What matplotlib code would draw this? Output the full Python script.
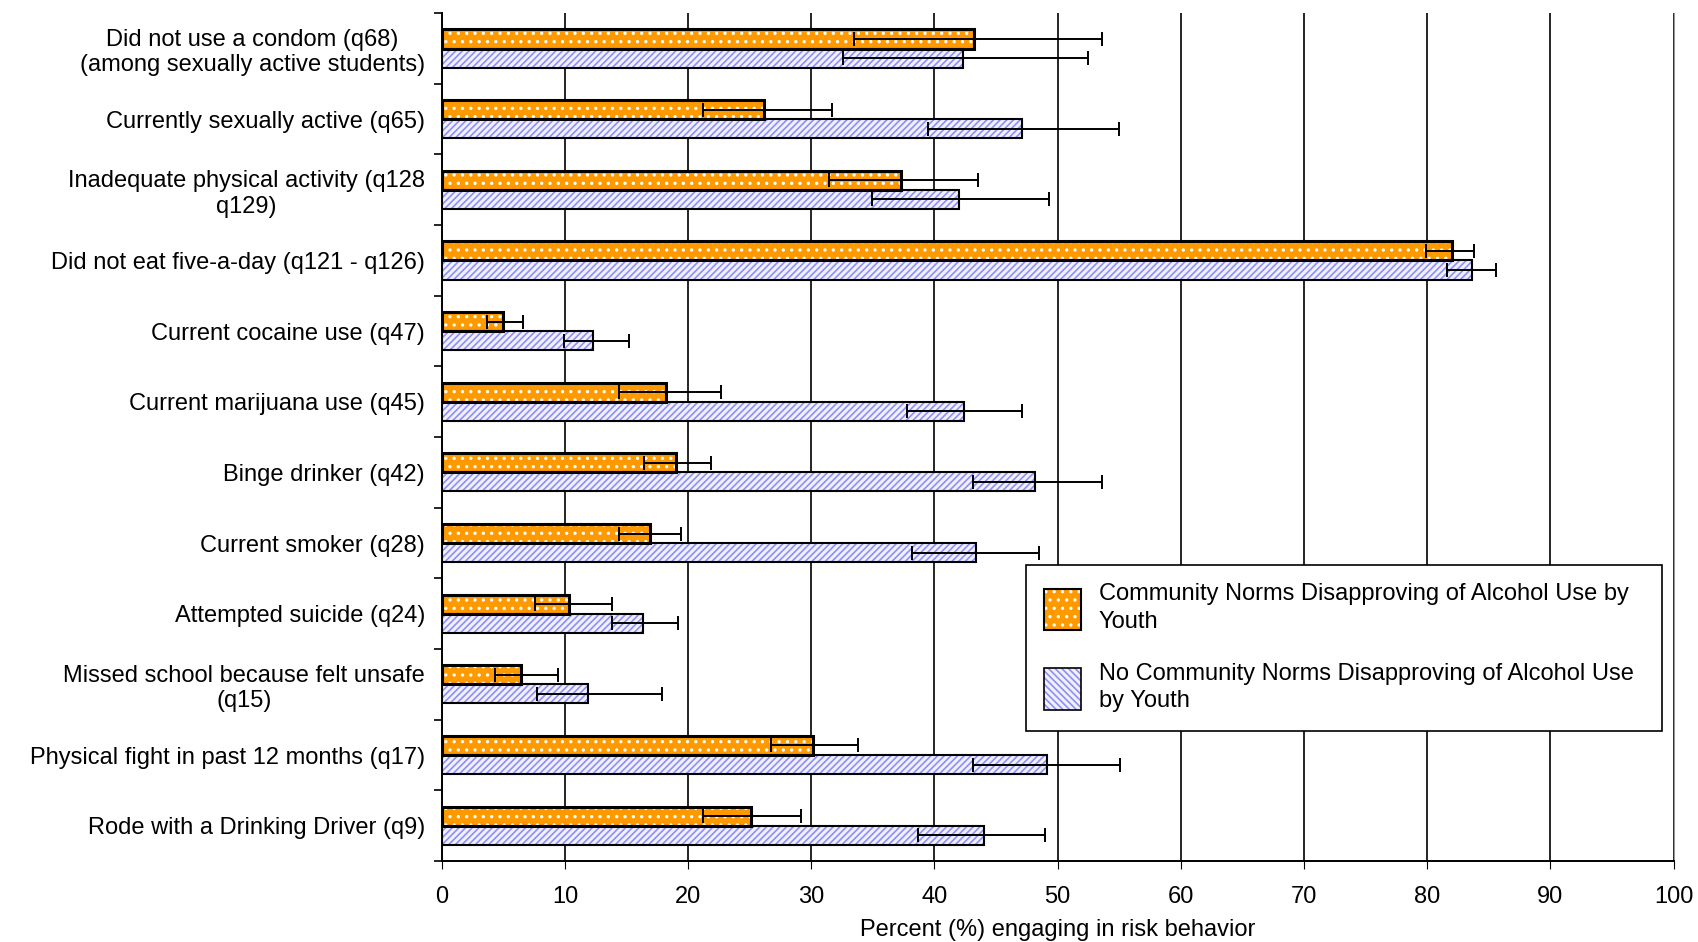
import numpy as np
import matplotlib.pyplot as plt
from matplotlib.patches import Patch

plt.rcParams['font.family'] = ['Liberation Sans', 'DejaVu Sans']
plt.rcParams['hatch.linewidth'] = 1.2

categorias = ['Did not use a condom (q68)\n(among sexually active students)',
              'Currently sexually active (q65)',
              'Inadequate physical activity (q128\nq129)',
              'Did not eat five-a-day (q121 - q126)',
              'Current cocaine use (q47)',
              'Current marijuana use (q45)',
              'Binge drinker (q42)',
              'Current smoker (q28)',
              'Attempted suicide (q24)',
              'Missed school because felt unsafe\n(q15)',
              'Physical fight in past 12 months (q17)',
              'Rode with a Drinking Driver (q9)']

# com normas comunitarias
normas = [43.2, 26.2, 37.3, 82.0, 5.0, 18.2, 19.0, 16.9, 10.3, 6.4, 30.1, 25.1]
normas_inf = [33.5, 21.2, 31.4, 79.9, 3.7, 14.4, 16.4, 14.4, 7.6, 4.3, 26.7, 21.2]
normas_sup = [53.6, 31.7, 43.5, 83.8, 6.6, 22.7, 21.9, 19.4, 13.8, 9.4, 33.8, 29.2]

# sem normas comunitarias
sem = [42.3, 47.1, 42.0, 83.6, 12.3, 42.4, 48.2, 43.4, 16.3, 11.9, 49.1, 44.0]
sem_inf = [32.6, 39.5, 34.9, 81.6, 9.9, 37.8, 43.1, 38.2, 13.8, 7.7, 43.1, 38.7]
sem_sup = [52.5, 55.0, 49.3, 85.6, 15.2, 47.1, 53.6, 48.5, 19.2, 17.9, 55.1, 49.0]

legenda = ['Community Norms Disapproving of Alcohol Use by\nYouth',
           'No Community Norms Disapproving of Alcohol Use\nby Youth']

laranja = '#FF9900'
azul = '#8F8FF5'
fs = 17

n = len(categorias)
y = np.arange(n)
h = 0.27

fig = plt.figure(figsize=(16.99, 9.42), dpi=100)
ax = fig.add_axes([0.260, 0.086, 0.725, 0.900])

y1 = y - h / 2
y2 = y + h / 2

ax.barh(y1, normas, height=h, color=laranja, edgecolor='white', hatch='..', linewidth=0, zorder=3)
ax.barh(y1, normas, height=h, fill=False, edgecolor='black', linewidth=2.2, zorder=4)
ax.barh(y2, sem, height=h, color='#F0F0FF', edgecolor=azul, hatch='/////', linewidth=0, zorder=3)
ax.barh(y2, sem, height=h, fill=False, edgecolor='black', linewidth=1.5, zorder=4)

e1 = [np.array(normas) - np.array(normas_inf), np.array(normas_sup) - np.array(normas)]
e2 = [np.array(sem) - np.array(sem_inf), np.array(sem_sup) - np.array(sem)]
ax.errorbar(normas, y1, xerr=e1, fmt='none', ecolor='black', elinewidth=1.4, capsize=5, capthick=1.4, zorder=5)
ax.errorbar(sem, y2, xerr=e2, fmt='none', ecolor='black', elinewidth=1.4, capsize=5, capthick=1.4, zorder=5)

ax.set_xlim(0, 100)
ax.set_ylim(n - 0.5, -0.5)
ax.set_xticks(np.arange(0, 101, 10))
ax.tick_params(axis='x', labelsize=fs, length=6, pad=12)
ax.set_yticks(y)
ax.set_yticklabels(categorias, fontsize=fs, multialignment='center')
ax.tick_params(axis='y', length=0, pad=12)
ax.set_yticks(np.arange(-0.5, n, 1), minor=True)
ax.tick_params(axis='y', which='minor', length=6, width=1.2)
ax.xaxis.grid(True, color='black', linewidth=1.2, zorder=0)
ax.set_axisbelow(True)
ax.spines['top'].set_visible(False)
ax.spines['right'].set_color('#999999')
ax.spines['left'].set_linewidth(1.4)
ax.spines['bottom'].set_linewidth(1.4)
ax.set_xlabel('Percent (%) engaging in risk behavior', fontsize=fs, labelpad=8)

h1 = (Patch(facecolor=laranja, edgecolor='white', hatch='..', linewidth=0),
      Patch(fill=False, edgecolor='black', linewidth=1.5))
h2 = (Patch(facecolor='#F0F0FF', edgecolor=azul, hatch='\\\\\\\\\\', linewidth=0),
      Patch(fill=False, edgecolor='black', linewidth=1.2))
leg = ax.legend([h1, h2], legenda, loc='lower left', bbox_to_anchor=(0.474, 0.153, 0.517, 0.192),
                mode='expand', fontsize=fs, frameon=True, fancybox=False, framealpha=1,
                edgecolor='black', handlelength=1.55, handleheight=2.3, labelspacing=1.3,
                borderpad=0.8, handletextpad=0.75, borderaxespad=0)
leg.get_frame().set_linewidth(1.2)
for t in leg.get_texts():
    t.set_linespacing(1.3)

plt.savefig('out.png', dpi=100)
